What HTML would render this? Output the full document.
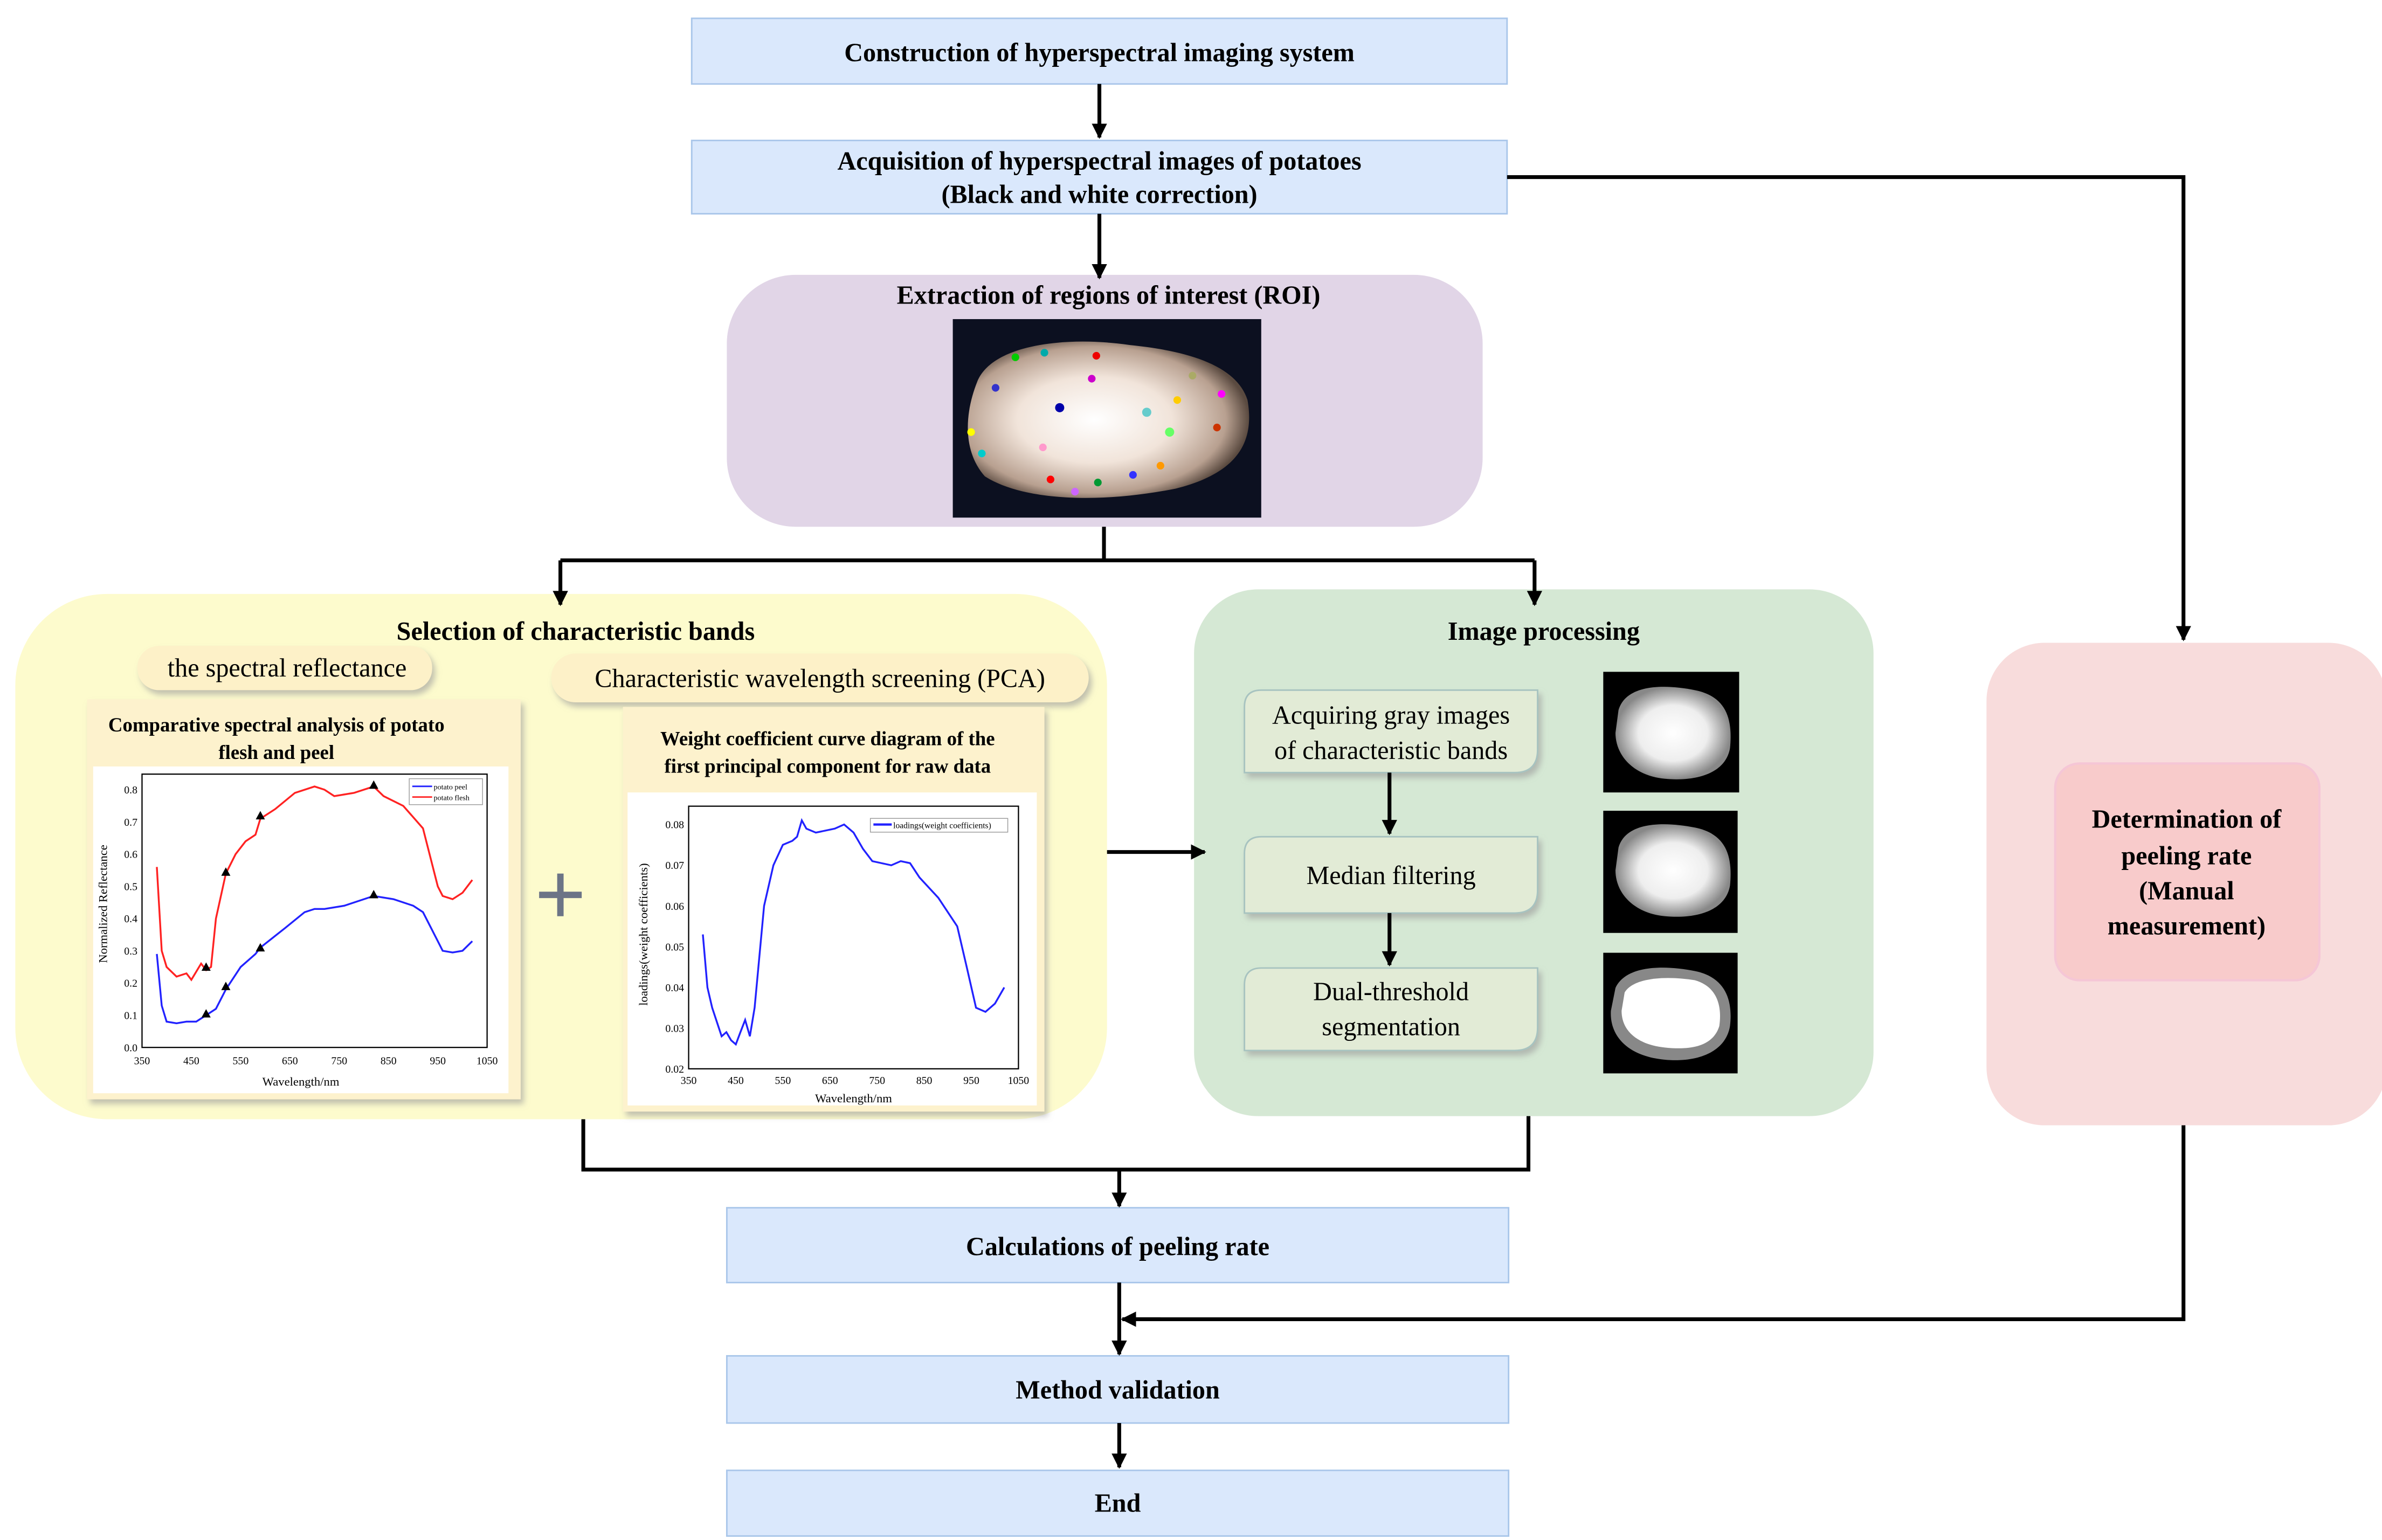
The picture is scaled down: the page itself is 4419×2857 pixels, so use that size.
<!DOCTYPE html>
<html><head><meta charset="utf-8"><style>
html,body{margin:0;padding:0;background:#fff;}
svg{display:block;}
text{font-family:"Liberation Serif",serif;}
.b{font-weight:bold;}
</style></head><body>
<svg width="4419" height="2857" viewBox="0 0 1560 1008.6" xmlns="http://www.w3.org/2000/svg">
<defs>
<marker id="ah" markerWidth="10" markerHeight="10" refX="9" refY="5" orient="auto" markerUnits="userSpaceOnUse">
<path d="M0,0 L10,5 L0,10 z" fill="#000"/></marker>
<radialGradient id="pot" cx="0.5" cy="0.5" r="0.5"><stop offset="0" stop-color="#fff"/><stop offset="0.6" stop-color="#eee"/><stop offset="1" stop-color="#888"/></radialGradient>
<radialGradient id="roi" cx="0.45" cy="0.5" r="0.55"><stop offset="0" stop-color="#fff"/><stop offset="0.5" stop-color="#f1e4da"/><stop offset="0.85" stop-color="#b8a090"/><stop offset="1" stop-color="#5a4a40"/></radialGradient>
<filter id="sh" x="-10%" y="-10%" width="130%" height="130%"><feDropShadow dx="2" dy="3" stdDeviation="2" flood-color="#999" flood-opacity="0.6"/></filter>
</defs>

<!-- top boxes -->
<rect x="453" y="12" width="534" height="43" fill="#dae8fc" stroke="#a9c6ea" stroke-width="1"/>
<text x="720" y="40" class="b" font-size="17" text-anchor="middle">Construction of hyperspectral imaging system</text>
<rect x="453" y="92" width="534" height="48" fill="#dae8fc" stroke="#a9c6ea" stroke-width="1"/>
<text x="720" y="111" class="b" font-size="17" text-anchor="middle">Acquisition of hyperspectral images of potatoes</text>
<text x="720" y="133" class="b" font-size="17" text-anchor="middle">(Black and white correction)</text>

<!-- ROI -->
<rect x="476" y="180" width="495" height="165" rx="45" fill="#e1d5e7"/>
<text x="726" y="199" class="b" font-size="17" text-anchor="middle">Extraction of regions of interest (ROI)</text>
<rect x="624" y="209" width="202" height="130" fill="#0c1020"/>
<path d="M640,250 C650,225 700,220 740,226 C780,230 810,240 817,262 C822,290 810,310 770,320 C720,330 670,328 645,312 C630,295 632,270 640,250 Z" fill="url(#roi)"/>
<g>
<circle cx="665" cy="234" r="2.5" fill="#0c0"/><circle cx="684" cy="231" r="2.5" fill="#0aa"/><circle cx="718" cy="233" r="2.5" fill="#e00"/>
<circle cx="652" cy="254" r="2.5" fill="#33c"/><circle cx="694" cy="267" r="3" fill="#00a"/><circle cx="715" cy="248" r="2.5" fill="#c0c"/>
<circle cx="751" cy="270" r="3" fill="#6cc"/><circle cx="771" cy="262" r="2.5" fill="#fc0"/><circle cx="800" cy="258" r="2.5" fill="#f0f"/>
<circle cx="766" cy="283" r="3" fill="#6f6"/><circle cx="797" cy="280" r="2.5" fill="#c30"/><circle cx="636" cy="283" r="2.5" fill="#ff0"/>
<circle cx="643" cy="297" r="2.5" fill="#0cc"/><circle cx="683" cy="293" r="2.5" fill="#f9c"/><circle cx="688" cy="314" r="2.5" fill="#f00"/>
<circle cx="704" cy="322" r="2.5" fill="#c6f"/><circle cx="719" cy="316" r="2.5" fill="#093"/><circle cx="742" cy="311" r="2.5" fill="#33f"/>
<circle cx="760" cy="305" r="2.5" fill="#f90"/><circle cx="781" cy="246" r="2.5" fill="#aa6"/>
</g>

<!-- Yellow -->
<rect x="10" y="389" width="715" height="344" rx="60" fill="#fdfbcd"/>
<text x="377" y="419" class="b" font-size="17" text-anchor="middle">Selection of characteristic bands</text>
<rect x="90" y="423" width="193" height="29" rx="14" fill="#fdf1c8" filter="url(#sh)"/>
<text x="188" y="443" font-size="17" text-anchor="middle">the spectral reflectance</text>
<rect x="361" y="428" width="352" height="32" rx="16" fill="#fdf1c8" filter="url(#sh)"/>
<text x="537" y="450" font-size="17" text-anchor="middle">Characteristic wavelength screening (PCA)</text>

<rect x="57" y="458" width="284" height="262" fill="#fdf2cd" filter="url(#sh)"/>
<text x="181" y="479" class="b" font-size="13" text-anchor="middle">Comparative spectral analysis of potato</text>
<text x="181" y="497" class="b" font-size="13" text-anchor="middle">flesh and peel</text>
<rect x="61" y="502" width="272" height="214" fill="#fff"/>
<rect x="93" y="507" width="226" height="179" fill="none" stroke="#000" stroke-width="0.8"/>
<g font-size="7" text-anchor="end" id="y1"></g>
<g font-size="7" text-anchor="middle" id="x1"></g>
<text x="197" y="711" font-size="8" text-anchor="middle">Wavelength/nm</text>
<text transform="translate(70,592) rotate(-90)" font-size="8" text-anchor="middle">Normalized Reflectance</text>
<path id="r1" fill="none" stroke="#f22" stroke-width="1.2"/>
<path id="b1" fill="none" stroke="#22f" stroke-width="1.2"/>
<rect x="268" y="510" width="48" height="17" fill="#fff" stroke="#999" stroke-width="0.5"/>
<line x1="270" y1="515" x2="283" y2="515" stroke="#22f"/><text x="284" y="517" font-size="5">potato peel</text>
<line x1="270" y1="522" x2="283" y2="522" stroke="#f22"/><text x="284" y="524" font-size="5">potato flesh</text>
<g id="tri1" fill="#000"></g>

<text x="367" y="606" font-size="60" font-weight="bold" fill="#6c7486" text-anchor="middle" font-family="Liberation Sans,sans-serif">+</text>

<rect x="408" y="463" width="276" height="265" fill="#fdf2cd" filter="url(#sh)"/>
<text x="542" y="488" class="b" font-size="13" text-anchor="middle">Weight coefficient curve diagram of the</text>
<text x="542" y="506" class="b" font-size="13" text-anchor="middle">first principal component for raw data</text>
<rect x="411" y="519" width="268" height="205" fill="#fff"/>
<rect x="451" y="528" width="216" height="172" fill="none" stroke="#000" stroke-width="0.8"/>
<g font-size="7" text-anchor="end" id="y2"></g>
<g font-size="7" text-anchor="middle" id="x2"></g>
<text x="559" y="722" font-size="8" text-anchor="middle">Wavelength/nm</text>
<text transform="translate(424,612) rotate(-90)" font-size="8" text-anchor="middle">loadings(weight coefficients)</text>
<path id="b2" fill="none" stroke="#22f" stroke-width="1.2"/>
<rect x="570" y="536" width="90" height="9" fill="#fff" stroke="#999" stroke-width="0.5"/>
<line x1="572" y1="540" x2="584" y2="540" stroke="#22f" stroke-width="1.5"/><text x="585" y="542.5" font-size="5.5">loadings(weight coefficients)</text>

<!-- Green -->
<rect x="782" y="386" width="445" height="345" rx="42" fill="#d5e8d4"/>
<text x="1011" y="419" class="b" font-size="17" text-anchor="middle">Image processing</text>
<g fill="#e2ebd6" stroke="#a7c3c0" stroke-width="1" filter="url(#sh)">
<path d="M826,452 H1007 V491 Q1007,506 992,506 H815 V463 Q815,452 826,452 Z"/>
<path d="M826,548 H1007 V583 Q1007,598 992,598 H815 V559 Q815,548 826,548 Z"/>
<path d="M826,634 H1007 V673 Q1007,688 992,688 H815 V645 Q815,634 826,634 Z"/>
</g>
<g font-size="17" text-anchor="middle">
<text x="911" y="474">Acquiring gray images</text>
<text x="911" y="497">of characteristic bands</text>
<text x="911" y="579">Median filtering</text>
<text x="911" y="655">Dual-threshold</text>
<text x="911" y="678">segmentation</text>
</g>
<rect x="1050" y="440" width="89" height="79" fill="#000"/>
<path d="M1060,465 C1065,448 1090,448 1110,452 C1130,456 1135,470 1133,490 C1130,507 1110,512 1090,510 C1070,508 1058,495 1058,480 Z" fill="url(#pot)"/>
<rect x="1050" y="531" width="88" height="80" fill="#000"/>
<path d="M1060,555 C1065,538 1090,538 1110,542 C1130,546 1135,560 1133,580 C1130,597 1110,602 1090,600 C1070,598 1058,585 1058,570 Z" fill="url(#pot)"/>
<rect x="1050" y="624" width="88" height="79" fill="#000"/>
<path d="M1058,647 C1065,632 1090,632 1110,636 C1130,640 1135,655 1133,672 C1130,690 1110,696 1090,694 C1068,692 1054,680 1055,662 Z" fill="#888"/>
<path d="M1064,650 C1070,640 1092,639 1110,642 C1124,646 1128,658 1126,672 C1122,685 1108,688 1090,686 C1072,684 1062,675 1062,662 Z" fill="#fff"/>

<!-- Pink -->
<rect x="1301" y="421" width="262" height="316" rx="38" fill="#f8dcdc"/>
<rect x="1346" y="500" width="173" height="142" rx="16" fill="#f8cbcb" stroke="#f5c6d6" stroke-width="1.5"/>
<g class="b" font-size="17" text-anchor="middle" font-weight="bold">
<text x="1432" y="542">Determination of</text>
<text x="1432" y="566">peeling rate</text>
<text x="1432" y="589">(Manual</text>
<text x="1432" y="612">measurement)</text>
</g>

<!-- bottom -->
<rect x="476" y="791" width="512" height="49" fill="#dae8fc" stroke="#a9c6ea" stroke-width="1"/>
<text x="732" y="822" class="b" font-size="17" text-anchor="middle">Calculations of peeling rate</text>
<rect x="476" y="888" width="512" height="44" fill="#dae8fc" stroke="#a9c6ea" stroke-width="1"/>
<text x="732" y="916" class="b" font-size="17" text-anchor="middle">Method validation</text>
<rect x="476" y="963" width="512" height="43" fill="#dae8fc" stroke="#a9c6ea" stroke-width="1"/>
<text x="732" y="990" class="b" font-size="17" text-anchor="middle">End</text>

<!-- connectors on top -->
<g stroke="#000" stroke-width="2.5" fill="none">
<line x1="720" y1="55" x2="720" y2="90" marker-end="url(#ah)"/>
<line x1="720" y1="140" x2="720" y2="182" marker-end="url(#ah)"/>
<polyline points="987,116 1430,116 1430,419" marker-end="url(#ah)"/>
<polyline points="723,345 723,367"/>
<polyline points="367,367 1005,367"/>
<line x1="367" y1="367" x2="367" y2="396" marker-end="url(#ah)"/>
<line x1="1005" y1="367" x2="1005" y2="396" marker-end="url(#ah)"/>
<line x1="725" y1="558" x2="789" y2="558" marker-end="url(#ah)"/>
<polyline points="382,733 382,766 1001,766 1001,731"/>
<line x1="733" y1="766" x2="733" y2="790" marker-end="url(#ah)"/>
<line x1="733" y1="840" x2="733" y2="887" marker-end="url(#ah)"/>
<polyline points="1430,737 1430,864 736,864"/>
<line x1="760" y1="864" x2="735" y2="864" marker-end="url(#ah)"/>
<line x1="733" y1="932" x2="733" y2="961" marker-end="url(#ah)"/>
<line x1="910" y1="506" x2="910" y2="546" marker-end="url(#ah)"/>
<line x1="910" y1="598" x2="910" y2="632" marker-end="url(#ah)"/>
</g>
</svg>
<script>
(function(){
var NS="http://www.w3.org/2000/svg";
function el(p,t,a,txt){var e=document.createElementNS(NS,t);for(var k in a)e.setAttribute(k,a[k]);if(txt!==undefined)e.textContent=txt;document.getElementById(p).appendChild(e);}
function x1(w){return 93+(w-350)/700*226;} function y1(v){return 686-v*211;}
function x2(w){return 451+(w-350)/700*216;} function y2(v){return 700-(v-0.02)/0.06*160;}
function path(id,pts,fx,fy){var d="";pts.forEach(function(p,i){d+=(i?"L":"M")+fx(p[0]).toFixed(1)+","+fy(p[1]).toFixed(1);});document.getElementById(id).setAttribute("d",d);}
var red=[[380,.56],[390,.3],[400,.25],[420,.22],[440,.23],[450,.21],[470,.26],[480,.24],[490,.25],[500,.4],[520,.54],[540,.6],[560,.64],[580,.66],[590,.71],[620,.74],[660,.79],[700,.81],[720,.8],[740,.78],[780,.79],[820,.81],[840,.78],[880,.75],[920,.68],[950,.5],[960,.47],[980,.46],[1000,.48],[1020,.52]];
var blu=[[380,.29],[390,.13],[400,.08],[420,.075],[440,.08],[460,.08],[480,.1],[500,.12],[520,.18],[550,.25],[580,.29],[590,.31],[640,.37],[680,.42],[700,.43],[720,.43],[760,.44],[820,.47],[860,.46],[900,.44],[920,.42],[950,.33],[960,.3],[980,.295],[1000,.3],[1020,.33]];
var b2=[[380,.053],[390,.04],[400,.035],[420,.028],[430,.029],[440,.027],[450,.026],[460,.029],[470,.032],[480,.028],[490,.035],[510,.06],[530,.07],[550,.075],[570,.076],[580,.077],[590,.081],[600,.079],[620,.078],[660,.079],[680,.08],[700,.078],[720,.074],[740,.071],[780,.07],[800,.071],[820,.0705],[840,.067],[880,.062],[920,.055],[940,.045],[960,.035],[980,.034],[1000,.036],[1020,.04]];
path("r1",red,x1,y1);path("b1",blu,x1,y1);path("b2",b2,x2,y2);
var ws=[350,450,550,650,750,850,950,1050];
ws.forEach(function(w){el("x1","text",{x:x1(w),y:697},w);el("x2","text",{x:x2(w),y:710},w);});
for(var i=0;i<=8;i++){var v=i/10;el("y1","text",{x:90,y:y1(v)+2.5},v.toFixed(1));}
for(var j=2;j<=8;j++){var v2=j/100;el("y2","text",{x:448,y:y2(v2)+2.5},v2.toFixed(2));}
[[480,.245],[520,.54],[590,.715],[820,.81],[480,.1],[520,.185],[590,.305],[820,.47]].forEach(function(p){var x=x1(p[0]),y=y1(p[1]);el("tri1","path",{d:"M"+x+","+(y-4)+"L"+(x+3)+","+(y+1.5)+"L"+(x-3)+","+(y+1.5)+"Z"});});
})();
</script>
</body></html>
